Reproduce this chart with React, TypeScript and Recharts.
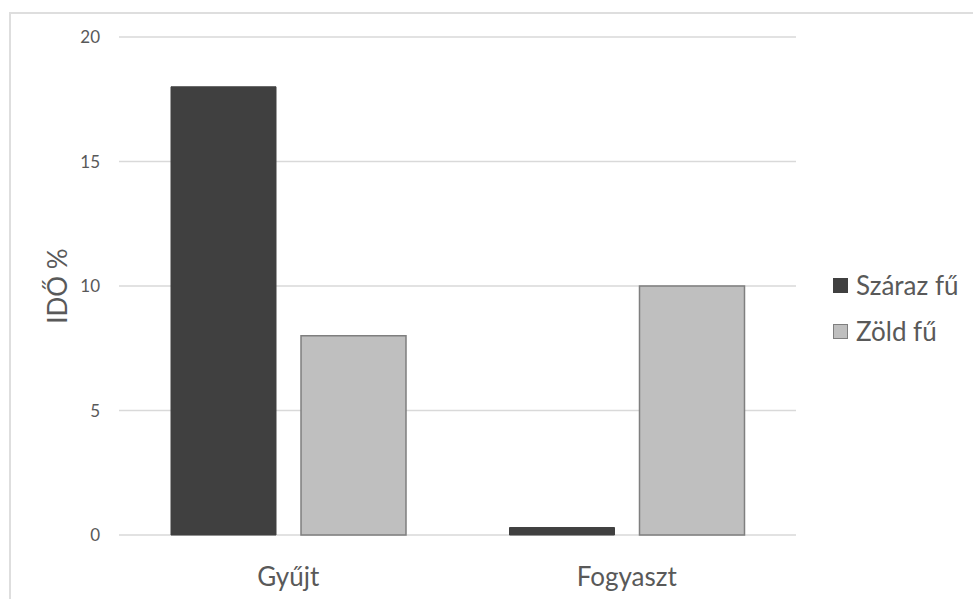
import { BarChart, Bar, XAxis, YAxis, CartesianGrid, Legend } from 'recharts';

const categories = ['Gyűjt', 'Fogyaszt'];
const szarazFu = [18, 0.3];
const zoldFu = [8, 10];
const yTicks = [0, 5, 10, 15, 20];

const data = categories.map((name, i) => ({ name, szaraz: szarazFu[i], zold: zoldFu[i] }));

const FONT = 'Lato, "Open Sans", sans-serif';
const TEXT = '#595959';

const YLabel = ({ viewBox }: any) => {
    const cx = 57;
    const cy = viewBox.y + viewBox.height / 2;
    return (
        <text x={cx} y={cy} transform={`rotate(-90 ${cx} ${cy})`} textAnchor="middle"
            dominantBaseline="central" fill={TEXT} fontSize={26} fontFamily={FONT}>
            IDŐ %
        </text>
    );
};

const LegendBox = ({ payload }: any) => (
    <div>
        {(payload || []).map((p: any) => (
            <div key={p.value} style={{ display: 'flex', alignItems: 'center', height: 46, fontFamily: FONT, fontSize: 26, color: TEXT }}>
                <span style={{ width: 13, height: 13, background: p.payload.fill, border: `1px solid ${p.payload.stroke}`, marginRight: 8, display: 'inline-block' }} />
                {p.value}
            </div>
        ))}
    </div>
);

export default function App() {
    return (
        <div style={{ position: 'absolute', left: 0, top: 0, width: 973, height: 599, background: '#fff', overflow: 'hidden' }}>
            <div style={{ position: 'absolute', left: 9, top: 12, width: 1000, height: 700, border: '2px solid #dedede', boxSizing: 'border-box' }} />
            <BarChart width={973} height={599} data={data}
                margin={{ top: 37, right: 37, left: 59, bottom: 4 }}
                barGap={25} barCategoryGap={52}>
                <CartesianGrid vertical={false} stroke="#d9d9d9" strokeWidth={1.5} />
                <XAxis dataKey="name" axisLine={false} tickLine={false} tickSize={0} tickMargin={33} height={60}
                    tick={{ fill: TEXT, fontSize: 26, fontFamily: FONT }} />
                <YAxis width={60} domain={[0, 20]} ticks={yTicks} axisLine={false} tickLine={false} tickSize={0} tickMargin={19}
                    tick={{ fill: TEXT, fontSize: 17, fontFamily: FONT }} label={<YLabel />} />
                <Legend layout="horizontal" verticalAlign="middle" align="right" content={<LegendBox />}
                    wrapperStyle={{ left: 833, top: 262, width: 140 }} />
                <Bar dataKey="szaraz" name="Száraz fű" fill="#404040" stroke="#404040" isAnimationActive={false} />
                <Bar dataKey="zold" name="Zöld fű" fill="#bfbfbf" stroke="#7f7f7f" strokeWidth={1.5} isAnimationActive={false} />
            </BarChart>
        </div>
    );
}
